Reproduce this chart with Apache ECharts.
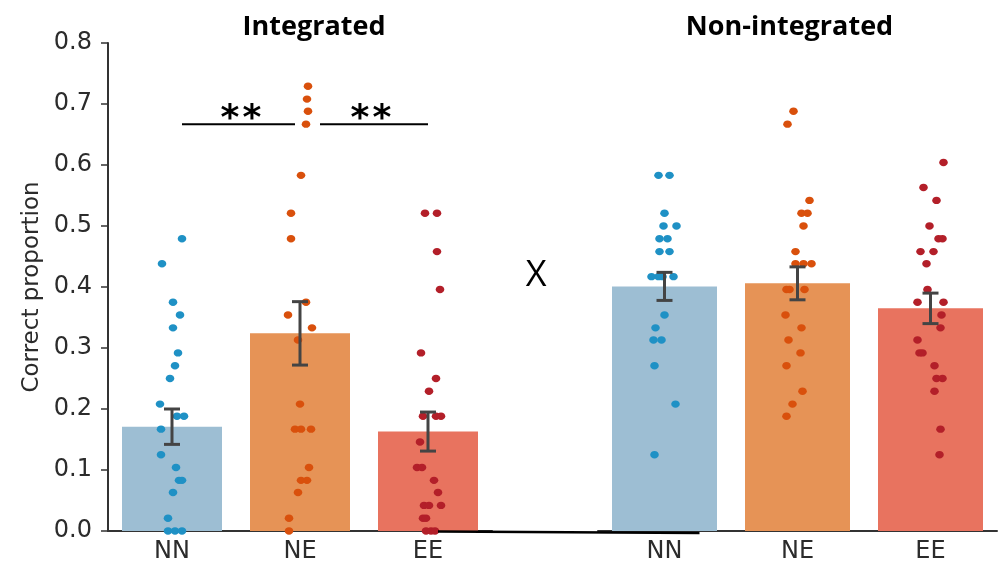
<!DOCTYPE html>
<html>
<head>
<meta charset="utf-8">
<script src="https://cdn.jsdelivr.net/npm/echarts@6/dist/echarts.min.js"></script>
<style>
  html, body { margin: 0; padding: 0; background: #fff; }
  #chart { width: 999px; height: 570px; }
</style>
</head>
<body>
<div id="chart"></div>
<script>
  // categories
  const conds = ['NN', 'NE', 'EE'];
  const groupTitles = ['Integrated', 'Non-integrated'];
  const yTicks = [0, 0.1, 0.2, 0.3, 0.4, 0.5, 0.6, 0.7, 0.8];

  // bar means and standard errors
  const meanInt = [0.171, 0.324, 0.163];
  const semInt = [0.029, 0.052, 0.032];
  const meanNon = [0.401, 0.406, 0.365];
  const semNon = [0.023, 0.027, 0.025];

  // individual points (value) + horizontal jitter (px)
  const intNN = [0.479, 0.438, 0.375, 0.354, 0.333, 0.292, 0.271, 0.25, 0.208, 0.188, 0.188, 0.167, 0.125, 0.104, 0.083, 0.083, 0.063, 0.021, 0, 0, 0];
  const intNNJit = [10, -10, 1, 8, 1, 6, 3, -2, -12, 5, 12, -11, -11, 4, 7, 10, 1, -4, -4, 3, 10];
  const intNE = [0.729, 0.708, 0.688, 0.667, 0.583, 0.521, 0.479, 0.375, 0.354, 0.333, 0.313, 0.208, 0.167, 0.167, 0.167, 0.104, 0.083, 0.083, 0.063, 0.021, 0];
  const intNEJit = [8, 7, 8, 6, 1, -9, -9, 6, -12, 12, -2, 0, -5, 1, 11, 9, 1, 7, -2, -11, -11];
  const intEE = [0.521, 0.521, 0.458, 0.396, 0.292, 0.25, 0.229, 0.188, 0.188, 0.188, 0.146, 0.104, 0.104, 0.083, 0.063, 0.042, 0.042, 0.042, 0.021, 0.021, 0, 0, 0];
  const intEEJit = [-3, 9, 9, 12, -7, 8, 1, -5, 8, 13, -8, -11, -6, 6, 10, -4, 1, 13, -5, -2, -2, 3, 7];
  const nonNN = [0.583, 0.583, 0.521, 0.5, 0.5, 0.479, 0.479, 0.458, 0.458, 0.417, 0.417, 0.417, 0.417, 0.354, 0.333, 0.313, 0.313, 0.271, 0.208, 0.125];
  const nonNNJit = [-6, 5, 0, -1, 12, -5, 3, -5, 5, -13, -6, -2, 9, 0, -9, -11, -3, -10, 11, -10];
  const nonNE = [0.688, 0.667, 0.542, 0.521, 0.521, 0.5, 0.458, 0.438, 0.438, 0.438, 0.396, 0.396, 0.396, 0.354, 0.333, 0.313, 0.292, 0.271, 0.229, 0.208, 0.188];
  const nonNEJit = [-4, -10, 12, 4, 10, 6, -2, -2, 6, 14, -11, -8, 7, -12, 4, -9, 3, -11, 5, -5, -11];
  const nonEE = [0.604, 0.563, 0.542, 0.5, 0.479, 0.479, 0.458, 0.458, 0.438, 0.396, 0.375, 0.375, 0.354, 0.333, 0.313, 0.292, 0.292, 0.271, 0.25, 0.25, 0.229, 0.167, 0.125];
  const nonEEJit = [13, -7, 6, -1, 8, 12, -10, 3, -4, -3, -13, 13, 11, 10, -13, -11, -8, 4, 6, 12, 4, 10, 9];

  const barColors = ['#9dbed3', '#e69356', '#e8735f'];
  const dotColors = ['#1f91c5', '#d9500c', '#b31f29'];

  function dotData(catIdx, vals, jit) {
    return vals.map((v, i) => [catIdx, v, jit[i]]);
  }
  const dotsInt = [].concat(
    dotData(0, intNN, intNNJit), dotData(1, intNE, intNEJit), dotData(2, intEE, intEEJit));
  const dotsNon = [].concat(
    dotData(0, nonNN, nonNNJit), dotData(1, nonNE, nonNEJit), dotData(2, nonEE, nonEEJit));

  const errInt = meanInt.map((m, i) => [i, m - semInt[i], m + semInt[i]]);
  const errNon = meanNon.map((m, i) => [i, m - semNon[i], m + semNon[i]]);

  function renderDot(params, api) {
    const p = api.coord([api.value(0), api.value(1)]);
    const c = dotColors[api.value(0)];
    return {
      type: 'ellipse',
      shape: { cx: p[0] + api.value(2), cy: p[1], rx: 4.3, ry: 3.7 },
      style: { fill: c }
    };
  }
  function renderErr(params, api) {
    const lo = api.coord([api.value(0), api.value(1)]);
    const hi = api.coord([api.value(0), api.value(2)]);
    const cap = 8;
    const st = { stroke: '#444', lineWidth: 3 };
    return {
      type: 'group',
      children: [
        { type: 'line', shape: { x1: lo[0], y1: lo[1], x2: hi[0], y2: hi[1] }, style: st },
        { type: 'line', shape: { x1: lo[0] - cap, y1: lo[1], x2: lo[0] + cap, y2: lo[1] }, style: st },
        { type: 'line', shape: { x1: hi[0] - cap, y1: hi[1], x2: hi[0] + cap, y2: hi[1] }, style: st }
      ]
    };
  }

  const axisCol = '#333';
  const labelFont = { fontSize: 24, color: '#2b2b2b', fontFamily: 'DejaVu Sans' };

  function xAxisOpt(gi) {
    return {
      type: 'category',
      gridIndex: gi,
      data: conds,
      axisLine: { lineStyle: { color: axisCol, width: 2 } },
      axisTick: { alignWithLabel: true, length: 6, lineStyle: { color: axisCol, width: 1.5 } },
      axisLabel: Object.assign({ margin: 9 }, labelFont)
    };
  }

  const chart = echarts.init(document.getElementById('chart'));
  chart.setOption({
    animation: false,
    grid: [
      { left: 108, top: 43, width: 384, bottom: 39 },
      { left: 598, top: 43, right: 2, bottom: 39 }
    ],
    xAxis: [xAxisOpt(0), xAxisOpt(1)],
    yAxis: [
      {
        type: 'value', gridIndex: 0, min: 0, max: 0.8, interval: 0.1,
        name: 'Correct proportion', nameLocation: 'middle', nameGap: 64,
        nameTextStyle: { fontSize: 23, color: '#2b2b2b', fontFamily: 'DejaVu Sans' },
        axisLine: { show: true, lineStyle: { color: axisCol, width: 2 } },
        axisTick: { show: true, length: 7, lineStyle: { color: axisCol, width: 1.5 } },
        axisLabel: Object.assign({ margin: 16, formatter: v => v.toFixed(1) }, labelFont),
        splitLine: { show: false }
      },
      {
        type: 'value', gridIndex: 1, min: 0, max: 0.8, interval: 0.1,
        axisLine: { show: false }, axisTick: { show: false }, axisLabel: { show: false },
        splitLine: { show: false }
      }
    ],
    series: [
      {
        type: 'bar', xAxisIndex: 0, yAxisIndex: 0, barWidth: 100, z: 1,
        data: meanInt.map((v, i) => ({ value: v, itemStyle: { color: barColors[i] } }))
      },
      {
        type: 'bar', xAxisIndex: 1, yAxisIndex: 1, barWidth: 105, z: 1,
        data: meanNon.map((v, i) => ({ value: v, itemStyle: { color: barColors[i] } }))
      },
      { type: 'custom', xAxisIndex: 0, yAxisIndex: 0, renderItem: renderDot, data: dotsInt, z: 3 },
      { type: 'custom', xAxisIndex: 1, yAxisIndex: 1, renderItem: renderDot, data: dotsNon, z: 3 },
      { type: 'custom', xAxisIndex: 0, yAxisIndex: 0, renderItem: renderErr, data: errInt, z: 4 },
      { type: 'custom', xAxisIndex: 1, yAxisIndex: 1, renderItem: renderErr, data: errNon, z: 4 }
    ]
  });

  // annotations placed from axis coordinates
  const pNN = chart.convertToPixel({ xAxisIndex: 0, yAxisIndex: 0 }, [0, 0.667]);
  const pNE = chart.convertToPixel({ xAxisIndex: 0, yAxisIndex: 0 }, [1, 0.667]);
  const pEE = chart.convertToPixel({ xAxisIndex: 0, yAxisIndex: 0 }, [2, 0.667]);
  const pEnd1 = chart.convertToPixel({ xAxisIndex: 0, yAxisIndex: 0 }, [2, 0]);
  const pNN2 = chart.convertToPixel({ xAxisIndex: 1, yAxisIndex: 1 }, [0, 0]);
  const pNE2 = chart.convertToPixel({ xAxisIndex: 1, yAxisIndex: 1 }, [1, 0]);
  const titleFont = 'bold 27px "Open Sans"';
  const starFont = 'bold 36px "DejaVu Sans"';
  const ly = pNN[1];

  function txt(text, x, y, font, sx) {
    return {
      type: 'text', x: x, y: y, z: 10, scaleX: sx || 1,
      style: { text: text, font: font, fill: '#000', align: 'center', verticalAlign: 'middle',
               textAlign: 'center', textVerticalAlign: 'middle' }
    };
  }
  function seg(x1, y1, x2, y2, w) {
    return { type: 'line', z: 10, shape: { x1, y1, x2, y2 }, style: { stroke: '#000', lineWidth: w || 2 } };
  }
  function stars(cx) {
    return [txt('*', cx - 11, ly - 4, starFont), txt('*', cx + 11, ly - 4, starFont)];
  }

  chart.setOption({
    graphic: [
      txt(groupTitles[0], (pNN[0] + pEE[0]) / 2 + 14, 27, titleFont),
      txt(groupTitles[1], pNE2[0] - 8, 27, titleFont),
      txt('X', (pEnd1[0] + pNN2[0]) / 2 - 10, 276, '36px "Open Sans"'),
      seg(pNN[0] + 10, ly, pNE[0] - 5, ly),
      seg(pNE[0] + 20, ly, pEE[0], ly),
      seg(pEnd1[0] + 10, pEnd1[1] + 0.5, pNN2[0] + 35, pNN2[1] + 2, 2.5)
    ].concat(stars((pNN[0] + pNE[0]) / 2 + 5), stars((pNE[0] + pEE[0]) / 2 + 7))
  });
</script>
</body>
</html>
